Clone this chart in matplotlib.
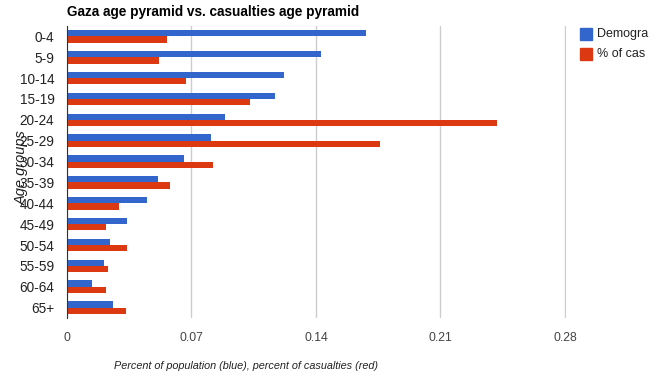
import numpy as np
import matplotlib.pyplot as plt
from matplotlib.patches import Rectangle

plt.rcParams['font.family'] = ['Liberation Sans', 'DejaVu Sans']

age_groups = ["0-4", "5-9", "10-14", "15-19", "20-24", "25-29", "30-34",
              "35-39", "40-44", "45-49", "50-54", "55-59", "60-64", "65+"]
demographics = [0.168, 0.143, 0.122, 0.117, 0.089, 0.081, 0.066,
                0.051, 0.045, 0.034, 0.024, 0.021, 0.014, 0.026]
casualties = [0.056, 0.052, 0.067, 0.103, 0.242, 0.176, 0.082,
              0.058, 0.029, 0.022, 0.034, 0.023, 0.022, 0.033]
xticks = [0, 0.07, 0.14, 0.21, 0.28]
xtick_labels = ["0", "0.07", "0.14", "0.21", "0.28"]

blue = "#3366cc"
red = "#dc3912"

fig = plt.figure(figsize=(6.72, 3.78), dpi=100)
ax = fig.add_axes([67/672, 1-318/378, (566-67)/672, (318-26)/378])

y = np.arange(len(age_groups))
h = 0.30
ax.barh(y - h/2, demographics, height=h, color=blue, zorder=3)
ax.barh(y + h/2, casualties, height=h, color=red, zorder=3)

ax.set_xlim(0, 0.2806)
ax.set_ylim(len(age_groups) - 0.5, -0.5)
ax.set_xticks(xticks)
ax.set_xticklabels(xtick_labels, color="#444444", fontsize=8.8)
ax.set_yticks(y)
ax.set_yticklabels(age_groups, color="#222222", fontsize=9.8)
ax.tick_params(axis="both", length=0)
ax.tick_params(axis="y", pad=9)
ax.tick_params(axis="x", pad=10)
ax.grid(axis="x", color="#cccccc", linewidth=1, zorder=0)
for s in ["top", "right", "bottom"]:
    ax.spines[s].set_visible(False)
ax.spines["left"].set_color("#333333")
ax.spines["left"].set_zorder(4)

fig.text(67/672, 1-12/378, "Gaza age pyramid vs. casualties age pyramid",
         fontsize=9.8, fontweight="bold", ha="left", va="center", color="#000000")
fig.text(246/672, 1-366/378, "Percent of population (blue), percent of casualties (red)",
         fontsize=7.8, style="italic", ha="center", va="center", color="#222222")
fig.text(22/672, 1-168/378, "Age groups", rotation=90, fontsize=10.5,
         style="italic", ha="center", va="center", color="#222222")

# legend
for i, (c, lab) in enumerate([(blue, "Demogra"), (red, "% of cas")]):
    yy = 34 + i * 20
    fig.patches.append(Rectangle((580/672, 1-(yy+6)/378), 12/672, 12/378,
                                 transform=fig.transFigure, color=c))
    fig.text(597/672, 1-yy/378, lab, fontsize=9, ha="left", va="center",
             color="#222222")

fig.savefig("out.png", dpi=100)
